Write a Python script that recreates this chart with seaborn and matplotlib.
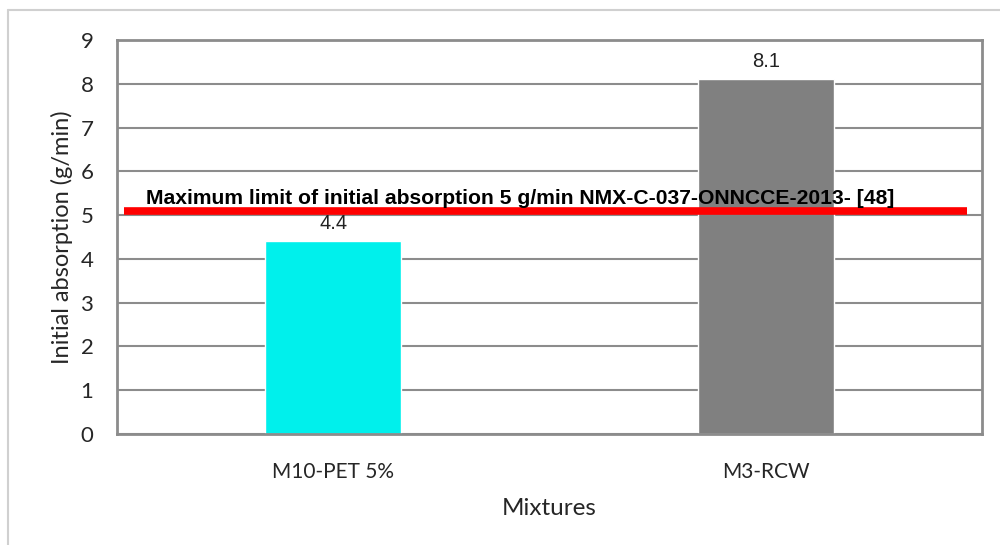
import matplotlib
matplotlib.use("Agg")
import matplotlib.pyplot as plt
import seaborn as sns
import pandas as pd
from matplotlib.lines import Line2D

# data
mixtures = ["M10-PET 5%", "M3-RCW"]
absorption = [4.4, 8.1]
bar_colors = ["#00F0EC", "#808080"]
limit_value = 5.1
limit_text = "Maximum limit of initial absorption 5 g/min NMX-C-037-ONNCCE-2013- [48]"
y_ticks = list(range(0, 10))

df = pd.DataFrame({"Mixtures": mixtures, "absorption": absorption})

sns.set_style("white")
plt.rcParams["font.family"] = ["Lato", "DejaVu Sans"]

fig = plt.figure(figsize=(10, 5.45), dpi=100)
ax = fig.add_axes([0.117, 0.2037, 0.865, 0.7229])

sns.barplot(data=df, x="Mixtures", y="absorption", hue="Mixtures",
            palette=bar_colors, width=0.315, saturation=1, legend=False, ax=ax)

for c in ax.containers:
    ax.bar_label(c, fmt="%.1f", padding=6, fontsize=14.5,
                 family="Liberation Sans", color="#222222")

# horizontal limit line
ax.plot([-0.484, 1.465], [limit_value, limit_value], color="#FF0000",
        lw=5.5, solid_capstyle="butt", zorder=4)
ax.text(-0.432, limit_value + 0.07, limit_text, fontsize=15.2,
        fontweight="bold", family="Liberation Sans", color="black",
        ha="left", va="bottom", zorder=5)

ax.set_xlim(-0.5, 1.5)
ax.set_ylim(0, 9)
ax.set_yticks(y_ticks)
ax.yaxis.grid(True, color="#8C8C8C", lw=1.5)
ax.set_axisbelow(True)
for s in ax.spines.values():
    s.set_visible(True)
    s.set_color("#8C8C8C")
    s.set_linewidth(2)

ax.tick_params(axis="y", length=0, labelsize=16, pad=17)
ax.tick_params(axis="x", length=0, labelsize=15, pad=20)
ax.set_xlabel("Mixtures", fontsize=17.5, labelpad=12)
ax.set_ylabel("Initial absorption (g/min)", fontsize=17, labelpad=5)

# light frame of the chart area
fig.add_artist(Line2D([0.008, 1.0], [0.982, 0.982], color="#D0D0D0", lw=1.5,
                      transform=fig.transFigure))
fig.add_artist(Line2D([0.008, 0.008], [0.0, 0.982], color="#D0D0D0", lw=1.5,
                      transform=fig.transFigure))

fig.savefig("out.png", dpi=100)
